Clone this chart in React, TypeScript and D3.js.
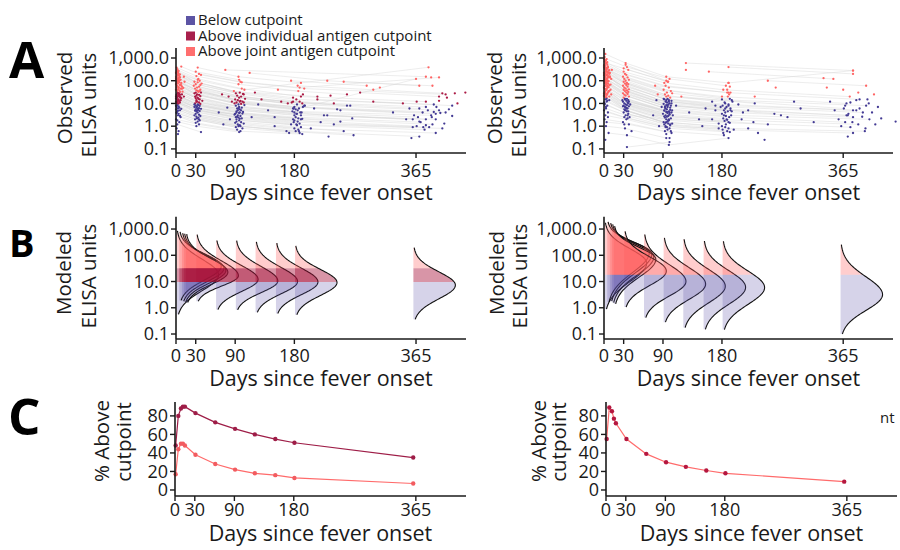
import React from "react";
import * as d3 from "d3";

const FONT = "'Open Sans', 'Noto Sans', 'DejaVu Sans', sans-serif";
const INK = "#1a1a1a";

// ---------- tick labels & texts ----------
const DAY_TICKS = [0, 30, 90, 180, 365];
const ELISA_TICKS = [0.1, 1, 10, 100, 1000];
const PCT_TICKS = [0, 20, 40, 60, 80];
const X_TITLE = "Days since fever onset";
const LEGEND_LABELS = ["Below cutpoint", "Above individual antigen cutpoint", "Above joint antigen cutpoint"];
const CLIPPED_LEGEND_TEXT = "nt";

// ---------- cutpoints ----------
const LEFT_CUT_INDIVIDUAL = 9.5;
const LEFT_CUT_JOINT = 32;
const RIGHT_CUT_JOINT = 18;

// ---------- colours ----------
const BLUE = "#433a94";
const DARKRED = "#ab1a45";
const SALMON = "#ff6464";
const LEGEND_COLORS = ["#5c54a4", "#a8204c", "#ff6e6e"];

// ---------- Panel A data: subjects as flat [day, value, day, value, ...] ----------
const leftEarlyHigh: number[][] = [
  [1, 380, 31, 160, 95, 70, 186, 35],
  [2, 300, 34, 120, 100, 45, 190, 20, 380, 12],
  [3, 250, 28, 90, 88, 35, 178, 18],
  [0, 220, 36, 100, 104, 40, 384, 390],
  [4, 200, 33, 85, 97, 30, 183, 15, 392, 9],
  [2, 180, 30, 70, 91, 28, 188, 12],
  [5, 160, 39, 75, 102, 26],
  [1, 150, 27, 60, 93, 22, 176, 11, 370, 6],
  [6, 140, 35, 55, 99, 20, 192, 10],
  [3, 130, 32, 50, 96, 18, 184, 9, 400, 5],
  [0, 120, 29, 45, 90, 15],
  [7, 110, 37, 40, 105, 16, 195, 8],
  [2, 100, 31, 38, 94, 14, 180, 7, 375, 4],
  [4, 95, 33, 36, 98, 13],
  [1, 90, 36, 35, 101, 12, 187, 6],
  [5, 85, 30, 30, 92, 11, 182, 5.5, 365, 120],
  [8, 80, 34, 32, 97, 12],
  [3, 75, 28, 28, 89, 10, 179, 6],
  [0, 70, 38, 30, 103, 11, 193, 7, 410, 4],
  [6, 65, 32, 25, 95, 9],
  [2, 60, 35, 24, 99, 9.5, 185, 5],
  [9, 55, 31, 22],
  [1, 50, 29, 20, 91, 8, 177, 4.5, 388, 3],
  [4, 48, 37, 21, 104, 8.5],
  [7, 45, 33, 18, 96, 7, 189, 4],
  [3, 42, 30, 17],
  [0, 40, 34, 16, 100, 6.5, 191, 4, 368, 2.5],
  [5, 38, 36, 15, 93, 6],
  [2, 35, 31, 14, 97, 5.5, 183, 3.5],
  [10, 33, 40, 13],
  [6, 32, 32, 12, 94, 5, 180, 3, 395, 2],
  [1, 260, 33, 110],
  [3, 170, 37, 65, 103, 25],
  [8, 420, 35, 200, 98, 90, 188, 50, 400, 140],
  [2, 320], [4, 270], [1, 210], [6, 190], [0, 145], [3, 115], [5, 105],
  [2, 88], [7, 68], [1, 58], [4, 52], [9, 44], [3, 230], [5, 135], [1, 78], [8, 62],
  [12, 150], [13, 90], [11, 48],
];

const leftEarlyMid: number[][] = [
  [2, 28, 31, 12, 95, 6, 184, 3.5, 380, 2],
  [4, 26, 35, 11, 99, 5, 190, 3],
  [1, 24, 29, 10, 92, 4.5],
  [5, 22, 33, 9, 97, 4, 182, 2.5, 372, 1.5],
  [3, 21, 37, 9.5, 102, 4.2],
  [0, 20, 30, 8, 90, 3.5, 178, 2],
  [6, 19, 34, 8.5, 96, 3.8, 186, 2.2, 390, 1.2],
  [2, 18, 32, 7.5],
  [8, 17, 36, 7.8, 101, 3.6, 192, 2.1],
  [1, 16, 28, 7, 89, 3.2],
  [4, 15, 31, 6.5, 94, 3, 180, 1.8, 366, 1],
  [7, 14, 35, 6.2, 98, 2.8],
  [3, 13, 33, 6, 93, 2.6, 185, 1.6],
  [5, 12.5, 38, 5.8],
  [0, 12, 30, 5.5, 91, 2.5, 179, 1.5, 385, 0.9],
  [2, 11.5, 34, 5.2, 95, 2.4],
  [6, 11, 32, 5, 100, 2.2, 188, 1.3],
  [1, 10.5, 29, 4.8],
  [4, 10, 36, 4.6, 97, 2.1, 183, 1.2, 405, 0.8],
  [3, 9.8, 31, 4.4, 92, 2],
  [9, 25], [1, 23], [5, 27], [2, 14.5], [7, 18.5], [0, 16.5], [3, 29], [6, 24], [12, 20],
];

const leftEarlyLow: number[][] = [
  [2, 8.5, 33, 4, 96, 1.8, 184, 1.1, 378, 0.7],
  [4, 7.5, 30, 3.5, 92, 1.6],
  [1, 7, 35, 3.2, 99, 1.5, 190, 0.9],
  [5, 6.5, 28, 3, 90, 1.4, 180, 0.8, 395, 0.5],
  [3, 6, 37, 2.8, 103, 1.3],
  [0, 5.5, 31, 2.6, 94, 1.2, 186, 0.7],
  [6, 5, 34, 2.4, 97, 1.1],
  [2, 4.5, 32, 2.2, 95, 1, 182, 0.6, 370, 0.35],
  [1, 4, 29, 2, 91, 0.9],
  [4, 3.5, 36, 1.8, 101, 0.8, 188, 0.5],
  [3, 3, 33, 1.6],
  [7, 2.5, 30, 1.4, 93, 0.7],
  [0, 2, 35, 1.2, 98, 0.6, 192, 0.45],
  [5, 1.5, 31, 1, 96, 0.55],
  [2, 1.2, 38, 0.55],
  [1, 0.8], [4, 0.6], [3, 0.45], [2, 1.8], [6, 2.8], [1, 3.8], [8, 5.8], [0, 7.8], [3, 4.8],
];

const leftLater: number[][] = [
  [33, 380, 95, 150, 190, 80],
  [30, 250, 96, 110],
  [38, 180, 100, 85, 195, 45, 410, 25],
  [28, 9, 92, 4],
  [35, 2, 98, 1, 187, 0.6],
  [75, 300, 380, 150],
  [70, 25, 160, 12, 260, 8],
  [80, 20, 170, 10],
  [65, 4, 150, 2.5, 250, 1.6],
  [82, 2, 175, 1.2],
  [72, 1.2, 168, 0.6, 270, 0.4],
  [85, 12, 178, 6],
  [78, 6.5],
  [112, 220, 230, 100, 370, 60],
  [120, 30, 215, 20],
  [130, 15, 240, 10, 380, 7],
  [140, 5, 230, 3, 360, 2],
  [115, 2.5, 220, 1.5],
  [125, 9, 245, 5.5, 395, 3.5],
  [155, 40, 260, 25],
  [150, 1, 255, 0.6],
  [175, 100, 290, 60],
  [185, 60, 300, 40, 405, 28],
  [193, 25], [180, 4], [172, 0.5], [190, 2], [196, 8],
  [178, 12, 265, 8],
  [210, 6, 330, 4],
  [225, 3, 350, 2],
  [240, 1.2, 360, 0.9],
  [205, 0.8], [250, 5], [268, 2.2],
  [215, 15, 345, 10],
  [235, 22],
  [255, 90, 390, 60],
  [280, 30, 400, 20],
  [300, 12, 420, 8],
  [310, 50], [232, 0.35],
  [355, 6], [362, 3], [370, 1.6], [376, 0.9], [383, 5], [389, 2.5], [396, 7], [402, 3.8],
  [408, 1.3], [415, 5.5], [420, 2.8], [424, 28], [400, 13], [388, 140], [412, 18], [358, 0.3],
  [366, 12], [392, 4.2], [380, 1.1], [428, 10], [440, 30],
];

const rightEarlyHigh: number[][] = [
  [2, 1500, 33, 600, 95, 150, 190, 80, 380, 280],
  [4, 900, 35, 400, 100, 120, 186, 60],
  [1, 700, 30, 250, 92, 80, 182, 40, 375, 20],
  [3, 600, 37, 300, 97, 90],
  [5, 500, 32, 200, 94, 60, 188, 30, 390, 15],
  [2, 450, 34, 180, 99, 50],
  [0, 400, 29, 150, 91, 40, 180, 20, 370, 10],
  [6, 380, 36, 140, 102, 35, 192, 16],
  [1, 350, 31, 120, 96, 30],
  [4, 320, 38, 110, 104, 28, 195, 14, 400, 8],
  [3, 300, 33, 100, 93, 25],
  [7, 280, 30, 90, 98, 22, 184, 11],
  [2, 260, 35, 80, 95, 20, 366, 6],
  [5, 240, 32, 75, 101, 18],
  [0, 220, 37, 70, 97, 16, 190, 9, 385, 5],
  [8, 200, 34, 65, 92, 15],
  [1, 190, 29, 60, 99, 14, 181, 8],
  [4, 180, 36, 55, 103, 13],
  [3, 170, 31, 50, 94, 12, 187, 7, 395, 4],
  [6, 160, 33, 45, 96, 11],
  [2, 150, 38, 42, 100, 10, 193, 6],
  [9, 140, 30, 40, 91, 9.5],
  [1, 130, 35, 38, 98, 9, 183, 5, 372, 3],
  [5, 120, 32, 35, 95, 8.5],
  [3, 110, 37, 32, 102, 8, 189, 4.5],
  [0, 100, 34, 30, 93, 7.5],
  [7, 95, 29, 28, 97, 7, 185, 4, 380, 2.5],
  [2, 90, 36, 26, 101, 6.5],
  [4, 85, 31, 24, 94, 6, 180, 3.5],
  [1, 80, 33, 22, 96, 5.5],
  [6, 75, 38, 20, 104, 5, 194, 3, 405, 2],
  [3, 70, 30, 18, 92, 4.8],
  [8, 65, 35, 16, 99, 4.5, 186, 2.8],
  [2, 60, 32, 15, 95, 4.2],
  [5, 55, 37, 14, 103, 4, 191, 2.5, 368, 1.5],
  [0, 50, 34, 13, 97, 3.8],
  [1, 45, 29, 12, 90, 3.5, 182, 2.2],
  [4, 42, 36, 11, 100, 3.2],
  [3, 38, 31, 10, 94, 3, 188, 1.9, 388, 1.2],
  [7, 35, 33, 9, 98, 2.8],
  [2, 32, 35, 8.5, 96, 2.6, 184, 1.7],
  [6, 30, 30, 8, 93, 2.4],
  [1, 28, 38, 7.5, 102, 2.2, 192, 1.4, 376, 0.9],
  [5, 26, 32, 7, 95, 2],
  [3, 24, 34, 6.5, 99, 1.8, 186, 1.2],
  [0, 22, 36, 6, 97, 1.6],
  [8, 20, 31, 5.5, 91, 1.5, 180, 1],
  [2, 19, 33, 5, 94, 1.4],
  [4, 18.5, 37, 4.5, 101, 1.2, 190, 0.8, 398, 0.6],
];

const rightEarlySingles: number[][] = [
  [1, 1100], [3, 800], [5, 650], [2, 550], [0, 480], [6, 420], [4, 360], [1, 330], [8, 290],
  [3, 250], [7, 230], [2, 210], [5, 195], [0, 175], [9, 155], [1, 135], [4, 125], [3, 105],
  [6, 92], [2, 78], [10, 68], [1, 58], [5, 48], [3, 40], [7, 33], [0, 27], [4, 23], [11, 120],
  [2, 700], [12, 300], [0, 900], [2, 380], [4, 260], [6, 140], [1, 115], [3, 85], [5, 62],
  [7, 52], [2, 44], [8, 36], [1, 30], [3, 26], [0, 21], [5, 350], [9, 220], [1, 160], [4, 600],
  [2, 190], [6, 98], [3, 72], [10, 40], [7, 150], [11, 25],
];

const rightEarlyLow: number[][] = [
  [2, 15, 32, 5, 95, 1.5, 185, 0.9],
  [4, 12, 35, 4.5, 98, 1.3],
  [1, 10, 30, 4, 92, 1.2, 181, 0.7, 380, 0.5],
  [5, 8, 37, 3.5, 101, 1.1],
  [3, 6, 33, 3, 94, 1, 188, 0.6],
  [0, 5, 31, 2.5, 96, 0.9],
  [6, 4, 36, 2.2, 100, 0.8, 192, 0.55],
  [2, 3, 34, 2, 97, 0.7],
  [1, 2, 29, 1.5, 93, 0.6, 183, 0.4],
  [4, 1.5, 38, 1.2, 103, 0.5],
  [3, 1, 32, 0.8, 95, 0.3],
  [7, 0.5, 35, 0.4, 99, 0.15, 190, 0.3],
  [2, 0.25], [5, 13], [1, 9], [3, 7], [8, 14], [0, 11], [4, 16], [6, 2.5],
];

const rightLater: number[][] = [
  [35, 0.12, 100, 0.2],
  [33, 500, 95, 100],
  [30, 350, 98, 90],
  [38, 12, 100, 4],
  [28, 14, 92, 5],
  [40, 9, 105, 3],
  [36, 3, 99, 2, 190, 1.5],
  [32, 16], [37, 10], [34, 6], [39, 2.5], [31, 1.2], [42, 0.6], [29, 7.5],
  [91, 16, 190, 8, 380, 5],
  [95, 14], [99, 12, 185, 6], [103, 10], [97, 8, 193, 5], [93, 6.5], [101, 5.2], [96, 4.2],
  [100, 3.4], [92, 2.7], [98, 1.8], [104, 1.3], [94, 0.9], [102, 0.6], [95, 0.45], [100, 0.3],
  [78, 60, 190, 30],
  [80, 14, 170, 8],
  [75, 3, 165, 2],
  [84, 1, 175, 0.8],
  [82, 25], [88, 7],
  [125, 600, 380, 280],
  [125, 300],
  [118, 20, 230, 10],
  [110, 8, 220, 5, 370, 3],
  [130, 4],
  [145, 2, 250, 1.2],
  [155, 6, 260, 3.5],
  [160, 250, 350, 120],
  [165, 12], [150, 1],
  [190, 80], [192, 55], [188, 40], [191, 25], [189, 20], [193, 30],
  [190, 400, 380, 200],
  [180, 15], [185, 10], [178, 7], [195, 4.5], [183, 3], [187, 2], [175, 1.3], [198, 0.7],
  [182, 0.5], [170, 5], [196, 12],
  [205, 9], [210, 2], [220, 0.8], [228, 1.5], [235, 0.5], [245, 0.25], [212, 4],
  [250, 100, 400, 60],
  [262, 50], [270, 3], [280, 2.5], [290, 12], [300, 6], [230, 20], [320, 1.5], [335, 130], [340, 50],
  [345, 12], [352, 5], [358, 2], [362, 1], [368, 8], [373, 3.5], [379, 1.5], [385, 14], [390, 6],
  [394, 2.6], [399, 0.8], [404, 10], [409, 4], [414, 1.2], [418, 7], [423, 2.2], [372, 0.35],
  [388, 30], [412, 25], [365, 40], [445, 1.6], [402, 15], [376, 11],
];

// ---------- Panel B data: modeled distributions (log10 mode and spreads) ----------
const ridgeDays = [1, 5, 9, 12, 15, 31, 61, 91, 121, 152, 181, 361];
const leftRidgeMode = [1.25, 1.58, 1.5, 1.42, 1.35, 1.22, 1.08, 1.02, 1.0, 0.98, 0.96, 0.86];
const leftRidgeSdUp = [0.6, 0.47, 0.48, 0.5, 0.52, 0.56, 0.53, 0.55, 0.54, 0.53, 0.5, 0.51];
const leftRidgeSdLow = [0.6, 0.52, 0.5, 0.48, 0.46, 0.39, 0.46, 0.44, 0.47, 0.48, 0.49, 0.52];
const rightRidgeMode = [1.7, 2.1, 2.05, 1.95, 1.85, 1.4, 1.0, 0.9, 0.82, 0.78, 0.77, 0.5];
const rightRidgeSdUp = [0.55, 0.42, 0.42, 0.44, 0.45, 0.54, 0.64, 0.63, 0.64, 0.63, 0.63, 0.68];
const rightRidgeSdLow = [0.7, 0.75, 0.72, 0.7, 0.68, 0.55, 0.55, 0.58, 0.63, 0.64, 0.64, 0.6];

// ---------- Panel C data ----------
const pctDays = [1, 5, 9, 12, 15, 31, 61, 91, 121, 152, 181, 361];
const leftPctIndividual = [48, 80, 88, 90, 90, 83, 73, 66, 60, 55, 51, 35];
const leftPctJoint = [17, 44, 50, 50, 48, 38, 28, 22, 18, 16, 13, 7];
const rightPctJoint = [55, 89, 85, 77, 72, 55, 39, 30, 25, 21, 18, 9];

// ---------- helpers ----------
const toPairs = (flat: number[]) => {
  const out: [number, number][] = [];
  for (let i = 0; i < flat.length; i += 2) out.push([flat[i], flat[i + 1]]);
  return out;
};

const fmtElisa = d3.format(",.1f");
const TICK_FS = 18;
const TITLE_FS = 21.5;

function XAxis({ xs, x0, x1, yBot, labelDy, titleY }: any) {
  return (
    <g>
      <line x1={x0} x2={x1} y1={yBot} y2={yBot} stroke={INK} strokeWidth={1.6} />
      {DAY_TICKS.map((d) => (
        <g key={d}>
          <line x1={xs(d)} x2={xs(d)} y1={yBot} y2={yBot + 5} stroke={INK} strokeWidth={1.4} />
          <text x={xs(d)} y={yBot + labelDy} textAnchor="middle" fontSize={TICK_FS} fill={INK}>
            {d}
          </text>
        </g>
      ))}
      <text x={(x0 + x1) / 2} y={titleY} textAnchor="middle" fontSize={TITLE_FS} fill={INK}>
        {X_TITLE}
      </text>
    </g>
  );
}

function YAxis({ ys, x0, yTop, yBot, ticks, fmt }: any) {
  return (
    <g>
      <line x1={x0} x2={x0} y1={yTop} y2={yBot} stroke={INK} strokeWidth={1.6} />
      {ticks.map((t: number) => (
        <g key={t}>
          <line x1={x0 - 5} x2={x0} y1={ys(t)} y2={ys(t)} stroke={INK} strokeWidth={1.4} />
          <text x={x0 - 7} y={ys(t)} dy="0.35em" textAnchor="end" fontSize={TICK_FS} fill={INK}>
            {fmt(t)}
          </text>
        </g>
      ))}
    </g>
  );
}

function YTitle({ lines, xs, cy }: any) {
  return (
    <g>
      {lines.map((l: string, i: number) => (
        <text
          key={i}
          transform={`translate(${xs[i]},${cy[i]}) rotate(-90)`}
          textAnchor="middle"
          fontSize={20.5}
          fill={INK}
        >
          {l}
        </text>
      ))}
    </g>
  );
}

// ---------- Panel A ----------
function PanelA({ x0, x1, groups, classify, titleXs }: any) {
  const xs = d3.scaleLinear().domain([0, 441]).range([x0, x1]);
  const ys = d3.scaleLog().domain([Math.pow(10, -1.18), Math.pow(10, 3.44)]).range([153, 48]);
  const subjects: [number, number][][] = groups.flat().map(toPairs);
  const line = d3
    .line<[number, number]>()
    .x((d) => xs(d[0]))
    .y((d) => ys(d[1]));
  const points = subjects.flat();
  return (
    <g>
      <g>
        {subjects
          .filter((s) => s.length > 1)
          .map((s, i) => (
            <path key={i} d={line(s) || ""} fill="none" stroke="#d6d6d6" strokeWidth={0.55} strokeOpacity={0.8} />
          ))}
      </g>
      <g>
        {points.map((p, i) => (
          <circle key={i} cx={xs(p[0])} cy={ys(p[1])} r={1.15} fill={classify(p[1])} />
        ))}
      </g>
      <YAxis ys={ys} x0={x0} yTop={48} yBot={153} ticks={ELISA_TICKS} fmt={fmtElisa} />
      <XAxis xs={xs} x0={x0} x1={x1} yBot={153} labelDy={23.5} titleY={200} />
      <YTitle lines={["Observed", "ELISA units"]} xs={titleXs} cy={[98, 105]} />
    </g>
  );
}

// ---------- Panel B ----------
const RIDGE_W = 42;
function PanelB({ x0, x1, modes, sdUp, sdLow, bands, titleXs }: any) {
  const xs = d3.scaleLinear().domain([0, 441]).range([x0, x1]);
  const ys = d3.scaleLog().domain([Math.pow(10, -1.19), Math.pow(10, 3.47)]).range([339, 216.7]);
  const yl = (t: number) => ys(Math.pow(10, t));
  return (
    <g>
      {ridgeDays.map((day, i) => {
        const base = xs(day);
        const m = modes[i];
        const su = sdUp[i];
        const sl = sdLow[i];
        const lo = m - 2.5 * sl;
        const hi = m + 2.8 * su;
        const w = (t: number) => {
          const z = t >= m ? (t - m) / su : (t - m) / sl;
          return RIDGE_W * Math.exp(-0.5 * z * z);
        };
        const sample = (a: number, b: number) => d3.range(0, 81).map((k) => a + ((b - a) * k) / 80);
        const area = d3
          .area<number>()
          .x0(() => base)
          .x1((t) => base + w(t))
          .y((t) => yl(t));
        const outline = d3
          .line<number>()
          .x((t) => base + w(t))
          .y((t) => yl(t));
        return (
          <g key={i}>
            {bands.map((b: any, j: number) => {
              const a = Math.max(lo, b.lo);
              const c = Math.min(hi, b.hi);
              if (a >= c) return null;
              return <path key={j} d={area(sample(a, c)) || ""} fill={b.color} fillOpacity={b.alpha} stroke="none" />;
            })}
            <path d={outline(sample(lo, hi)) || ""} fill="none" stroke="#111" strokeWidth={1.1} />
          </g>
        );
      })}
      <YAxis ys={ys} x0={x0} yTop={216.7} yBot={339} ticks={ELISA_TICKS} fmt={fmtElisa} />
      <XAxis xs={xs} x0={x0} x1={x1} yBot={339} labelDy={22.5} titleY={386} />
      <YTitle lines={["Modeled", "ELISA units"]} xs={titleXs} cy={[273, 276]} />
    </g>
  );
}

// ---------- Panel C ----------
function PanelC({ x0, x1, series, titleXs }: any) {
  const xs = d3.scaleLinear().domain([0, 441]).range([x0, x1]);
  const ys = d3.scaleLinear().domain([-6.5, 95]).range([496, 402]);
  const line = d3
    .line<number>()
    .x((_, i) => xs(pctDays[i]))
    .y((d) => ys(d));
  return (
    <g>
      {series.map((s: any, k: number) => (
        <g key={k}>
          <path d={line(s.values) || ""} fill="none" stroke={s.line} strokeWidth={1.2} />
          {s.values.map((v: number, i: number) => (
            <circle key={i} cx={xs(pctDays[i])} cy={ys(v)} r={2.2} fill={s.dot} />
          ))}
        </g>
      ))}
      <YAxis ys={ys} x0={x0} yTop={402} yBot={496} ticks={PCT_TICKS} fmt={(d: number) => String(d)} />
      <XAxis xs={xs} x0={x0} x1={x1} yBot={496} labelDy={20} titleY={541} />
      <YTitle lines={["% Above", "cutpoint"]} xs={titleXs} cy={[441, 442]} />
    </g>
  );
}

export default function App() {
  const classifyLeft = (v: number) => (v < LEFT_CUT_INDIVIDUAL ? BLUE : v < LEFT_CUT_JOINT ? DARKRED : SALMON);
  const classifyRight = (v: number) => (v < RIGHT_CUT_JOINT ? BLUE : SALMON);
  const L = (v: number) => Math.log10(v);
  const leftBands = [
    { lo: -9, hi: L(LEFT_CUT_INDIVIDUAL), color: "#5a50a8", alpha: 0.25 },
    { lo: L(LEFT_CUT_INDIVIDUAL), hi: L(LEFT_CUT_JOINT), color: "#a8143c", alpha: 0.45 },
    { lo: L(LEFT_CUT_JOINT), hi: 9, color: "#ff5b5b", alpha: 0.3 },
  ];
  const rightBands = [
    { lo: -9, hi: L(RIGHT_CUT_JOINT), color: "#5a50a8", alpha: 0.25 },
    { lo: L(RIGHT_CUT_JOINT), hi: 9, color: "#ff5b5b", alpha: 0.3 },
  ];
  return (
    <svg
      width={900}
      height={550}
      style={{ position: "absolute", left: 0, top: 0, background: "#fff" }}
      fontFamily={FONT}
    >
      <rect width={900} height={550} fill="#fff" />
      {/* panel letters */}
      <text x={9} y={78} fontSize={51} fontWeight={700} fill="#000">A</text>
      <text x={9} y={257} fontSize={38} fontWeight={700} fill="#000">B</text>
      <text x={8} y={435} fontSize={51} fontWeight={700} fill="#000">C</text>

      {/* Panel A */}
      <PanelA
        x0={176}
        x1={466}
        groups={[leftEarlyHigh, leftEarlyMid, leftEarlyLow, leftLater]}
        classify={classifyLeft}
        titleXs={[72, 96]}
      />
      <PanelA
        x0={604}
        x1={893}
        groups={[rightEarlyHigh, rightEarlySingles, rightEarlyLow, rightLater]}
        classify={classifyRight}
        titleXs={[502, 526]}
      />
      {/* legend */}
      <g>
        {LEGEND_LABELS.map((lab, i) => (
          <g key={lab}>
            <rect x={186} y={16 + i * 15.5} width={9} height={9} fill={LEGEND_COLORS[i]} />
            <text x={198} y={25 + i * 15.5} fontSize={15} fill={INK}>
              {lab}
            </text>
          </g>
        ))}
      </g>

      {/* Panel B */}
      <PanelB
        x0={176}
        x1={466}
        modes={leftRidgeMode}
        sdUp={leftRidgeSdUp}
        sdLow={leftRidgeSdLow}
        bands={leftBands}
        titleXs={[71, 96]}
      />
      <PanelB
        x0={604}
        x1={893}
        modes={rightRidgeMode}
        sdUp={rightRidgeSdUp}
        sdLow={rightRidgeSdLow}
        bands={rightBands}
        titleXs={[504, 527]}
      />

      {/* Panel C */}
      <PanelC
        x0={175}
        x1={466}
        series={[
          { values: leftPctIndividual, line: "#9e1d47", dot: "#9e1d47" },
          { values: leftPctJoint, line: "#ff6b6b", dot: "#f25c60" },
        ]}
        titleXs={[109, 131]}
      />
      <PanelC
        x0={606}
        x1={897}
        series={[{ values: rightPctJoint, line: "#ff6b6b", dot: "#b5173f" }]}
        titleXs={[546, 566]}
      />
      <text x={880} y={423} fontSize={15} fill={INK}>{CLIPPED_LEGEND_TEXT}</text>
    </svg>
  );
}
